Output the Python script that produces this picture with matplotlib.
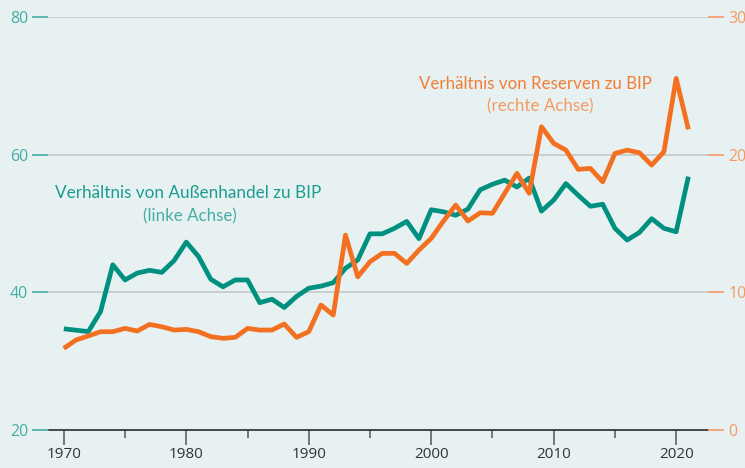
import matplotlib
matplotlib.use("Agg")
import matplotlib.pyplot as plt
from matplotlib.ticker import MultipleLocator

years = list(range(1970, 2022))
trade_gdp = [34.7, 34.5, 34.3, 37.2, 44.0, 41.8, 42.8, 43.2, 42.9, 44.6,
             47.3, 45.2, 41.9, 40.8, 41.8, 41.8, 38.5, 39.0, 37.8, 39.4,
             40.6, 40.9, 41.4, 43.5, 44.7, 48.5, 48.5, 49.3, 50.3, 47.8,
             52.0, 51.7, 51.2, 52.1, 54.9, 55.7, 56.3, 55.3, 56.6, 51.8,
             53.4, 55.8, 54.1, 52.5, 52.8, 49.3, 47.6, 48.7, 50.7, 49.3,
             48.8, 56.8]
reserves_gdp = [5.93, 6.54, 6.83, 7.14, 7.14, 7.38, 7.19, 7.67, 7.50, 7.26,
                7.31, 7.14, 6.78, 6.66, 6.73, 7.38, 7.26, 7.26, 7.70, 6.73,
                7.14, 9.08, 8.35, 14.16, 11.13, 12.22, 12.83, 12.83, 12.10, 13.07,
                13.92, 15.18, 16.34, 15.18, 15.78, 15.74, 17.19, 18.64, 17.19, 22.03,
                20.82, 20.33, 18.93, 19.00, 18.03, 20.09, 20.33, 20.14, 19.24, 20.21,
                25.54, 21.84]
left_ticks = [20, 40, 60, 80]
right_ticks = [0, 10, 20, 30]
x_ticks = [1970, 1980, 1990, 2000, 2010, 2020]

BG = "#E8F1F2"
TEAL = "#00907F"
TEAL_TXT = "#1A9C90"
TEAL_LIGHT = "#45ADA4"
ORANGE = "#F37021"
ORANGE_TXT = "#F27D35"
ORANGE_LIGHT = "#F49A63"
GRID = "#C6CCCE"

plt.rcParams['font.family'] = ['Open Sans', 'DejaVu Sans']
ANN_FONT = ['Lato', 'DejaVu Sans']

fig = plt.figure(figsize=(7.45, 4.68), dpi=100, facecolor=BG)
ax = fig.add_axes([48.5/745, 1-430/468, (708-48.5)/745, (430-17)/468])
ax.set_facecolor(BG)
ax2 = ax.twinx()

ax.set_xlim(1968.75, 2022.6)
ax.set_ylim(20, 80)
ax2.set_ylim(0, 30)

for y in [40, 60, 80]:
    ax.axhline(y, color=GRID, lw=1.3, zorder=0)

ax.plot(years, trade_gdp, color=TEAL, lw=3.4, solid_joinstyle='round', solid_capstyle='butt', zorder=3)
ax2.plot(years, reserves_gdp, color=ORANGE, lw=3.4, solid_joinstyle='round', solid_capstyle='butt', zorder=3)

for a in (ax, ax2):
    for s in ['top', 'left', 'right']:
        a.spines[s].set_visible(False)
ax2.spines['bottom'].set_visible(False)
ax.spines['bottom'].set_color('#2b2b2b')
ax.spines['bottom'].set_linewidth(1.2)

ax.set_yticks(left_ticks)
ax.tick_params(axis='y', length=11.5, width=1.2, color=TEAL_LIGHT, labelcolor=TEAL_LIGHT,
               labelsize=11.5, pad=3)
ax2.set_yticks(right_ticks)
ax2.tick_params(axis='y', length=11.5, width=1.2, color=ORANGE_LIGHT, labelcolor=ORANGE_LIGHT,
                labelsize=11.5, pad=3)

ax.set_xticks(x_ticks)
ax.xaxis.set_minor_locator(MultipleLocator(5))
ax.tick_params(axis='x', which='major', length=10.5, width=1.1, color='#555555',
               labelcolor='#333333', labelsize=11, pad=2)
ax.tick_params(axis='x', which='minor', length=6, width=1.1, color='#555555')

def axfrac(px, py):
    return ((px - 48.5) / (708 - 48.5), (430 - py) / (430 - 17))

ax.text(*axfrac(188, 193), "Verhältnis von Außenhandel zu BIP", transform=ax.transAxes,
        ha='center', va='center', color=TEAL_TXT, fontsize=12.3, family=ANN_FONT)
ax.text(*axfrac(190, 216), "(linke Achse)", transform=ax.transAxes,
        ha='center', va='center', color=TEAL_LIGHT, fontsize=12.2, family=ANN_FONT)
ax.text(*axfrac(535, 84), "Verhältnis von Reserven zu BIP", transform=ax.transAxes,
        ha='center', va='center', color=ORANGE_TXT, fontsize=12.2, family=ANN_FONT)
ax.text(*axfrac(540, 106), "(rechte Achse)", transform=ax.transAxes,
        ha='center', va='center', color=ORANGE_LIGHT, fontsize=12.2, family=ANN_FONT)

fig.savefig("out.png", dpi=100, facecolor=BG)
